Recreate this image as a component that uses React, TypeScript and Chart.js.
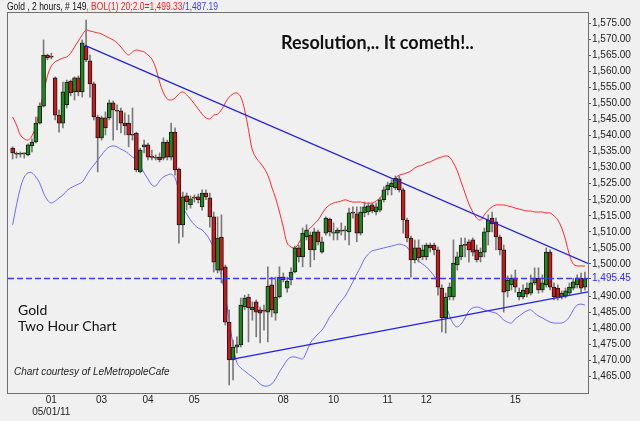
import React, { useEffect, useRef } from "react";
import { Chart, registerables } from "chart.js";
Chart.register(...registerables);

// ---- data (2-hour gold bars) ----
const OPEN = [1536.1,1534.3,1534.2,1534.3,1534.0,1536.8,1538.0,1543.9,1549.2,1565.1,1564.5,1558.0,1546.4,1543.9,1549.6,1557.0,1553.6,1558.0,1553.6,1567.9,1563.3,1556.1,1545.8,1539.3,1545.5,1545.5,1550.2,1547.7,1547.7,1543.9,1543.9,1540.2,1540.8,1528.7,1536.5,1537.1,1533.3,1533.0,1533.3,1533.0,1538.0,1533.3,1541.1,1529.6,1512.2,1521.2,1518.4,1520.6,1520.9,1517.8,1522.1,1520.6,1514.7,1498.1,1508.4,1499.1,1481.9,1470.1,1474.1,1474.8,1486.6,1489.7,1485.7,1488.2,1485.7,1485.4,1485.0,1493.5,1484.7,1489.7,1495.9,1492.5,1495.0,1497.5,1505.0,1502.2,1508.4,1509.0,1504.4,1510.0,1503.7,1509.6,1514.0,1509.6,1509.6,1510.3,1510.3,1510.0,1515.9,1515.6,1509.6,1515.9,1516.2,1518.4,1516.2,1516.8,1520.0,1523.1,1524.0,1523.7,1526.5,1523.1,1513.7,1508.1,1501.3,1505.0,1502.2,1502.2,1505.9,1505.9,1504.4,1492.5,1483.2,1489.7,1489.7,1499.7,1502.2,1505.9,1506.9,1507.5,1504.4,1502.2,1503.7,1510.0,1514.3,1513.1,1508.4,1504.4,1491.6,1493.5,1495.6,1489.7,1489.7,1492.5,1490.9,1494.1,1495.6,1491.9,1493.5,1503.7,1492.8,1492.5,1489.7,1490.0,1490.9,1492.5,1493.5,1495.6,1492.8];
const HIGH = [1536.5,1534.9,1534.9,1534.6,1537.4,1539.0,1545.8,1550.2,1569.8,1565.4,1565.7,1558.3,1548.0,1556.7,1557.3,1557.3,1558.3,1558.6,1569.8,1576.0,1565.1,1556.7,1546.4,1546.1,1547.4,1551.1,1550.8,1549.6,1548.6,1547.1,1546.4,1548.6,1541.1,1536.1,1538.6,1537.7,1535.5,1534.0,1534.6,1539.3,1538.6,1543.9,1542.4,1529.9,1522.4,1522.1,1521.2,1521.5,1521.8,1523.1,1523.1,1522.1,1516.2,1514.7,1515.3,1499.7,1485.7,1476.3,1477.3,1489.4,1490.3,1490.6,1488.2,1488.8,1486.6,1487.2,1499.1,1495.9,1495.9,1499.1,1497.2,1495.9,1498.8,1505.6,1505.9,1511.2,1512.2,1510.0,1511.2,1510.6,1508.4,1514.7,1514.3,1512.8,1511.2,1512.8,1511.8,1517.4,1517.8,1517.8,1517.8,1519.3,1519.0,1519.0,1519.0,1520.6,1524.0,1525.5,1526.2,1527.4,1527.4,1523.7,1514.3,1508.7,1507.5,1507.5,1505.9,1506.5,1506.5,1506.5,1505.3,1493.5,1490.9,1494.1,1507.5,1503.7,1508.1,1508.1,1507.5,1508.1,1505.9,1505.0,1511.2,1515.3,1516.2,1514.3,1509.0,1505.9,1496.3,1496.6,1498.1,1492.5,1493.5,1494.1,1496.6,1498.8,1498.8,1496.6,1505.0,1504.4,1494.1,1493.5,1491.6,1492.5,1494.1,1495.6,1496.6,1497.2,1497.5];
const LOW = [1532.7,1533.0,1533.3,1533.0,1533.7,1534.9,1537.7,1543.6,1548.9,1563.6,1563.9,1544.9,1541.1,1542.4,1548.6,1552.4,1551.1,1552.4,1552.0,1563.0,1552.0,1544.9,1528.7,1538.6,1540.2,1544.9,1538.6,1541.8,1540.8,1540.2,1536.5,1538.6,1528.7,1528.4,1534.6,1532.4,1532.4,1532.4,1531.8,1532.4,1532.4,1532.4,1527.7,1506.5,1508.4,1516.8,1517.4,1519.3,1519.0,1516.8,1520.0,1511.5,1497.5,1497.2,1494.1,1481.0,1462.3,1463.9,1472.3,1474.1,1485.7,1475.7,1482.5,1477.3,1475.4,1479.4,1475.7,1483.5,1482.5,1489.4,1494.4,1491.2,1493.5,1497.2,1500.6,1499.1,1507.5,1499.1,1501.3,1505.9,1503.4,1509.0,1508.7,1507.5,1507.5,1509.0,1507.5,1505.9,1514.3,1506.9,1509.0,1514.7,1515.3,1515.9,1515.3,1516.2,1519.3,1521.5,1521.5,1523.1,1522.4,1509.6,1506.9,1495.9,1500.3,1500.6,1501.3,1501.3,1503.7,1502.8,1490.3,1478.8,1478.5,1488.8,1488.8,1498.1,1501.3,1502.2,1500.6,1502.5,1500.6,1500.6,1502.2,1505.9,1510.0,1504.4,1502.8,1485.0,1489.7,1491.9,1491.2,1488.8,1489.1,1489.7,1490.3,1493.5,1490.9,1491.2,1492.8,1491.9,1488.8,1488.8,1489.1,1489.4,1490.3,1491.9,1492.5,1491.2,1491.9];
const CLOSE = [1534.6,1534.2,1534.3,1534.4,1537.1,1538.0,1543.9,1549.2,1565.1,1564.2,1564.4,1546.4,1543.9,1553.6,1556.7,1553.3,1558.0,1553.6,1568.9,1563.6,1556.1,1545.8,1539.3,1545.5,1542.4,1550.2,1548.0,1547.6,1543.9,1543.0,1540.2,1540.1,1529.3,1535.5,1537.1,1533.3,1533.2,1533.1,1532.4,1538.0,1533.3,1541.1,1529.3,1512.2,1520.9,1519.3,1520.3,1520.5,1520.0,1522.1,1520.9,1514.7,1500.6,1508.1,1498.1,1481.9,1470.1,1474.1,1474.8,1487.2,1489.4,1486.3,1486.6,1485.0,1484.7,1485.3,1493.1,1485.7,1489.7,1495.9,1495.0,1494.7,1497.5,1505.0,1502.2,1509.6,1510.6,1504.4,1510.0,1506.9,1506.9,1514.3,1510.0,1509.7,1510.6,1510.2,1510.4,1515.9,1515.8,1509.6,1516.2,1517.8,1518.1,1516.5,1517.8,1520.0,1523.1,1524.6,1525.2,1526.8,1523.1,1513.7,1508.1,1501.3,1505.0,1501.9,1504.4,1505.9,1505.0,1504.4,1492.8,1483.2,1489.7,1492.8,1500.3,1502.2,1505.9,1505.8,1504.4,1503.7,1501.3,1503.7,1510.0,1513.7,1512.5,1508.4,1504.4,1491.2,1495.0,1495.6,1492.8,1491.2,1491.9,1490.6,1494.1,1495.6,1491.9,1494.1,1503.7,1492.8,1489.7,1489.4,1490.9,1491.6,1492.8,1494.4,1495.6,1492.5,1495.45];
// Bollinger Bands (20; 2.0)
const BOL_UPPER = [1545.8,1543.3,1540.2,1539.0,1538.6,1539.9,1543.0,1548.0,1553.3,1558.6,1561.7,1563.0,1563.6,1564.2,1564.5,1565.7,1567.6,1569.5,1571.4,1572.9,1572.6,1572.3,1572.0,1571.7,1571.0,1570.4,1569.8,1568.9,1567.6,1566.1,1565.1,1566.1,1566.7,1566.4,1566.1,1565.1,1563.9,1561.1,1556.7,1553.3,1551.4,1551.1,1551.7,1553.0,1553.6,1552.7,1551.4,1549.9,1548.3,1546.7,1545.5,1545.2,1546.4,1546.7,1548.0,1550.2,1552.0,1553.0,1553.3,1552.0,1548.0,1541.8,1535.5,1533.0,1531.5,1529.9,1527.7,1524.0,1520.6,1516.2,1511.5,1506.5,1505.3,1505.0,1506.5,1508.7,1510.3,1511.2,1512.5,1513.7,1515.6,1517.4,1518.4,1519.0,1519.3,1519.6,1520.0,1519.6,1519.3,1519.3,1519.3,1519.0,1519.0,1519.0,1519.6,1520.6,1522.1,1524.0,1525.5,1526.8,1527.7,1528.0,1528.4,1529.0,1529.9,1530.5,1530.8,1531.5,1531.8,1532.4,1533.0,1533.3,1533.7,1533.3,1531.5,1529.0,1525.5,1522.1,1518.7,1516.2,1514.3,1513.7,1515.3,1516.8,1517.8,1518.4,1518.4,1518.4,1518.1,1517.8,1517.4,1517.1,1516.8,1516.5,1516.5,1516.2,1516.2,1516.2,1515.9,1515.9,1515.0,1513.7,1511.2,1507.5,1502.8,1500.0,1499.4,1499.4,1499.33];
const BOL_LOWER = [1512.2,1518.4,1523.7,1527.1,1528.4,1528.4,1527.1,1525.2,1522.1,1519.9,1519.0,1519.6,1520.6,1521.5,1522.8,1523.7,1524.3,1524.9,1525.5,1527.4,1529.3,1530.8,1532.4,1534.0,1535.5,1536.5,1536.8,1536.5,1535.8,1535.2,1534.3,1533.3,1532.4,1530.5,1528.4,1526.5,1524.6,1524.3,1525.9,1527.1,1527.7,1528.0,1526.8,1522.4,1517.8,1515.6,1513.7,1512.2,1511.2,1510.6,1509.3,1507.5,1504.7,1500.6,1496.0,1490.0,1482.5,1474.8,1469.2,1467.6,1466.7,1465.7,1464.8,1463.9,1462.6,1462.0,1462.0,1462.6,1464.2,1466.4,1468.2,1470.1,1471.0,1471.0,1470.7,1470.4,1472.6,1475.4,1476.9,1478.2,1479.4,1481.3,1483.5,1485.0,1486.9,1488.5,1490.0,1492.2,1494.4,1496.9,1499.1,1501.6,1503.1,1504.1,1504.4,1504.7,1505.0,1505.3,1505.6,1505.9,1506.2,1505.9,1505.3,1503.4,1501.9,1500.9,1500.0,1499.1,1497.8,1496.3,1494.1,1490.9,1487.5,1483.8,1481.3,1480.4,1481.3,1483.2,1485.4,1486.3,1486.6,1486.3,1485.7,1485.4,1485.0,1484.7,1483.8,1482.5,1481.9,1481.6,1482.9,1483.8,1484.7,1485.4,1485.7,1484.7,1483.8,1483.2,1482.5,1481.9,1481.6,1481.6,1481.6,1482.2,1483.5,1485.7,1487.2,1487.5,1487.19];

// x-axis day labels (bar index where a new day starts)
const DAY_INDEX = [10, 23, 35, 47, 70, 83, 97, 107, 130];
const DAY_LABEL = ["01", "03", "04", "05", "08", "10", "11", "12", "15"];
const FIRST_DATE = "05/01/11";
// y-axis tick values
const Y_TICKS = [1465, 1470, 1475, 1480, 1485, 1490, 1495.45, 1500, 1505, 1510, 1515, 1520, 1525, 1530, 1535, 1540, 1545, 1550, 1555, 1560, 1565, 1570, 1575];
const LAST_PRICE = 1495.45;
// hand-drawn trend lines [bar index, price]
const DOWN_TREND = [[18.7, 1568.1], [148.8, 1500.2]];
const UP_TREND = [[56.6, 1470.3], [148.8, 1491.3]];

const X_MIN = -1.2;
const X_MAX = 148.8;
const Y_MIN = 1459.8;
const Y_MAX = 1578.2;

const GREEN = "#1b8a1b";
const RED = "#cc1818";
const BLUE = "#2a2aff";

const fmt = (v: number) =>
  v.toLocaleString("en-US", { minimumFractionDigits: 2, maximumFractionDigits: 2 });

const annotations = {
  id: "annotations",
  afterDraw(chart: any) {
    const ctx = chart.ctx as CanvasRenderingContext2D;
    const a = chart.chartArea;
    ctx.save();
    // frame
    ctx.strokeStyle = "#707070";
    ctx.lineWidth = 1;
    ctx.strokeRect(Math.round(a.left) - 0.5, Math.round(a.top) - 0.5, Math.round(a.right - a.left) + 1, Math.round(a.bottom - a.top) + 1);
    // header (narrow sans, horizontally condensed)
    ctx.save();
    ctx.translate(7, 10);
    ctx.scale(0.85, 1);
    ctx.font = "10px 'Liberation Sans', Arial, sans-serif";
    ctx.textBaseline = "alphabetic";
    let x = 0;
    const parts: [string, string][] = [
      ["Gold , 2 hours, # 149", "#111"],
      [", BOL(1) 20;2.0=1,499.33", "#ff1a1a"],
      ["/1,487.19", "#3a3aff"],
    ];
    for (const [t, c] of parts) {
      ctx.fillStyle = c;
      ctx.fillText(t, x, 0);
      x += ctx.measureText(t).width;
    }
    ctx.restore();
    // title
    ctx.fillStyle = "#111";
    ctx.font = "bold 18px Lato, 'Open Sans', sans-serif";
    ctx.fillText("Resolution,.. It cometh!..", 281, 49);
    // left notes
    ctx.font = "14px Lato, 'Open Sans', sans-serif";
    ctx.fillText("Gold", 18, 315);
    ctx.fillText("Two Hour Chart", 18, 331);
    ctx.font = "italic 10px 'Liberation Sans', Arial, sans-serif";
    ctx.fillStyle = "#222";
    ctx.fillText("Chart courtesy of LeMetropoleCafe", 14, 375);
    ctx.restore();
  },
};

export default function App() {
  const ref = useRef<HTMLCanvasElement>(null);
  useEffect(() => {
    document.body.style.margin = "0";
    Chart.defaults.font.family = "'Liberation Sans', Arial, sans-serif";
    const idx = OPEN.map((_, i) => i);
    const wicks = idx.map((i) => ({ x: i, y: [LOW[i], HIGH[i]] }));
    const bodies = idx.map((i) => ({ x: i, y: [OPEN[i], CLOSE[i]] }));
    const bodyColors = idx.map((i) => (CLOSE[i] >= OPEN[i] ? GREEN : RED));
    const chart = new Chart(ref.current as HTMLCanvasElement, {
      type: "bar",
      data: {
        datasets: [
          {
            type: "line",
            data: BOL_UPPER.map((v, i) => ({ x: i, y: v })),
            borderColor: "#ff2a2a",
            borderWidth: 1,
            pointRadius: 0,
            tension: 0.35,
            order: 6,
          } as any,
          {
            type: "line",
            data: BOL_LOWER.map((v, i) => ({ x: i, y: v })),
            borderColor: "#6b6bff",
            borderWidth: 1,
            pointRadius: 0,
            tension: 0.35,
            order: 6,
          } as any,
          {
            type: "bar",
            data: wicks,
            backgroundColor: "#7a7a7a",
            barThickness: 1,
            grouped: false,
            order: 4,
          } as any,
          {
            type: "bar",
            data: bodies,
            backgroundColor: bodyColors,
            borderColor: "#1a1a1a",
            borderWidth: 1,
            borderSkipped: false,
            barThickness: 4,
            minBarLength: 1,
            grouped: false,
            order: 3,
          } as any,
          {
            type: "line",
            data: [
              { x: X_MIN, y: LAST_PRICE },
              { x: X_MAX, y: LAST_PRICE },
            ],
            borderColor: "#3a3aff",
            borderWidth: 1.5,
            borderDash: [6, 3],
            pointRadius: 0,
            order: 2,
          } as any,
          {
            type: "line",
            data: DOWN_TREND.map(([x, y]) => ({ x, y })),
            borderColor: "#2020e8",
            borderWidth: 1.2,
            pointRadius: 0,
            order: 1,
          } as any,
          {
            type: "line",
            data: UP_TREND.map(([x, y]) => ({ x, y })),
            borderColor: "#2020e8",
            borderWidth: 1.2,
            pointRadius: 0,
            order: 1,
          } as any,
        ],
      },
      options: {
        animation: false,
        responsive: false,
        devicePixelRatio: 1,
        layout: { padding: { left: 8, top: 13, right: 0, bottom: 0 } },
        plugins: { legend: { display: false }, tooltip: { enabled: false }, title: { display: false } },
        scales: {
          x: {
            type: "linear",
            min: X_MIN,
            max: X_MAX,
            offset: false,
            grid: { display: false, drawTicks: false, tickLength: 0 },
            border: { display: false },
            afterBuildTicks: (axis: any) => {
              axis.ticks = DAY_INDEX.map((v) => ({ value: v }));
            },
            afterFit: (axis: any) => {
              axis.height = 28;
            },
            ticks: {
              autoSkip: false,
              maxRotation: 0,
              padding: 1,
              color: "#222",
              font: { size: 10 },
              callback: (v: any) => {
                const k = DAY_INDEX.indexOf(Number(v));
                if (k < 0) return "";
                return k === 0 ? [DAY_LABEL[k], FIRST_DATE] : DAY_LABEL[k];
              },
            },
          },
          y: {
            type: "linear",
            position: "right",
            min: Y_MIN,
            max: Y_MAX,
            grid: { display: true, drawOnChartArea: false, drawTicks: true, tickLength: 3, color: "#555" },
            border: { display: false },
            afterBuildTicks: (axis: any) => {
              axis.ticks = Y_TICKS.map((v) => ({ value: v }));
            },
            afterFit: (axis: any) => {
              axis.width = 52;
            },
            ticks: {
              padding: 1,
              font: { size: 10 },
              color: (c: any) => (c.tick && c.tick.value === LAST_PRICE ? BLUE : "#222"),
              callback: (v: any) => fmt(Number(v)),
            },
          },
        },
      },
      plugins: [annotations],
    } as any);
    return () => chart.destroy();
  }, []);
  return (
    <div style={{ width: 640, height: 421, background: "#f0f0f0" }}>
      <canvas ref={ref} width={640} height={421} style={{ display: "block" }} />
    </div>
  );
}
